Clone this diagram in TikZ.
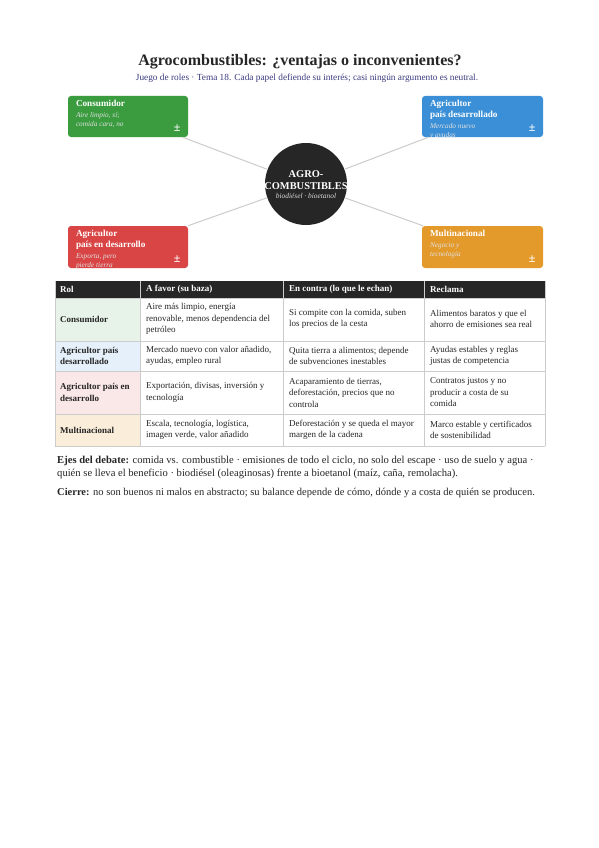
\documentclass[tikz,border=0pt]{standalone}
\usepackage{fontspec}
\setmainfont{Liberation Serif}
\usepackage{tikz}
\usetikzlibrary{positioning}
\definecolor{ink}{HTML}{262626}
\definecolor{navy}{HTML}{3A3A7E}
\definecolor{consgreen}{HTML}{3A9C3F}
\definecolor{richblue}{HTML}{3A8FD6}
\definecolor{poorred}{HTML}{D94545}
\definecolor{multiorange}{HTML}{E39A2B}
\definecolor{gridgray}{HTML}{CCCCCC}
\tikzset{
    rolebox/.style={rectangle, rounded corners=3pt, minimum width=120pt, minimum height=41pt, inner sep=0pt},
    roletitle/.style={anchor=north west, inner sep=0pt, align=left, text=white, font=\bfseries\fontsize{9.2}{10.5}\selectfont},
    rolenote/.style={anchor=north west, inner sep=0pt, align=left, text=white!88!black, font=\itshape\fontsize{7.3}{9}\selectfont},
    pm/.style={text=white, inner sep=0pt, font=\bfseries\fontsize{12}{12}\selectfont},
    spoke/.style={draw=gridgray, line width=1pt},
    hub/.style={circle, fill=ink, minimum size=82pt, inner sep=0pt},
    tabhead/.style={anchor=west, inner sep=0pt, text=white, font=\bfseries\fontsize{9}{10}\selectfont},
    rolcell/.style={anchor=west, inner sep=0pt, align=left, text=ink, font=\bfseries\fontsize{9}{11.5}\selectfont},
    cell/.style={anchor=west, inner sep=0pt, align=left, text=ink, font=\fontsize{9}{11.5}\selectfont},
}
\begin{document}
\begin{tikzpicture}[x=1pt, y=-1pt]
\useasboundingbox[fill=white] (0,0) rectangle (599,848);

% title
\node[font=\bfseries\fontsize{16}{18}\selectfont, text=ink] (title) at (300,61.5) {Agrocombustibles: ¿ventajas o inconvenientes?};
\node[font=\fontsize{9.3}{11}\selectfont, text=navy] (subtitle) at (307,78) {Juego de roles · Tema 18. Cada papel defiende su interés; casi ningún argumento es neutral.};

% hub and role boxes
\node[hub] (hub) at (306,184) {};
\node[text=white, align=center, inner sep=0pt, font=\bfseries\fontsize{10.4}{12}\selectfont] (hubname) at (306,180.5) {AGRO-\\COMBUSTIBLES};
\node[text=white!85!black, inner sep=0pt, font=\itshape\fontsize{7.4}{8}\selectfont, below=3pt of hubname] (hubsub) {biodiésel · bioetanol};

\node[rolebox, fill=consgreen] (cons) at (128,116.5) {};
\node[rolebox, fill=richblue, minimum width=121pt] (rich) at (482.5,116.5) {};
\node[rolebox, fill=poorred, minimum height=42pt] (poor) at (128,247) {};
\node[rolebox, fill=multiorange, minimum width=121pt, minimum height=42pt] (multi) at (482.5,247) {};

\draw[spoke] (hub) -- (cons);
\draw[spoke] (hub) -- (rich);
\draw[spoke] (hub) -- (poor);
\draw[spoke] (hub) -- (multi);

\begin{scope}
\clip[rounded corners=3pt] (cons.south west) rectangle (cons.north east);
\node[roletitle] (t1) at ([xshift=8pt,yshift=-4.5pt]cons.north west) {Consumidor};
\node[rolenote, below=5pt of t1.south west, anchor=north west] {Aire limpio, sí;\\comida cara, no};
\end{scope}
\begin{scope}
\clip[rounded corners=3pt] (rich.south west) rectangle (rich.north east);
\node[roletitle] (t2) at ([xshift=8pt,yshift=-4.5pt]rich.north west) {Agricultor\\país desarrollado};
\node[rolenote, below=3.5pt of t2.south west, anchor=north west] {Mercado nuevo\\y ayudas};
\end{scope}
\begin{scope}
\clip[rounded corners=3pt] (poor.south west) rectangle (poor.north east);
\node[roletitle] (t3) at ([xshift=8pt,yshift=-4.5pt]poor.north west) {Agricultor\\país en desarrollo};
\node[rolenote, below=4pt of t3.south west, anchor=north west] {Exporta, pero\\pierde tierra};
\end{scope}
\begin{scope}
\clip[rounded corners=3pt] (multi.south west) rectangle (multi.north east);
\node[roletitle] (t4) at ([xshift=8pt,yshift=-4.5pt]multi.north west) {Multinacional};
\node[rolenote, below=5.5pt of t4.south west, anchor=north west] {Negocio y\\tecnología};
\end{scope}

\foreach \b in {cons,rich,poor,multi}
    \node[pm] at ([xshift=-11pt,yshift=9.5pt]\b.south east) {±};

% table
\fill[ink] (55,281) rectangle (545,298);
\fill[consgreen!12] (55,298) rectangle (140,341);
\fill[richblue!13] (55,341) rectangle (140,371);
\fill[poorred!13] (55,371) rectangle (140,414);
\fill[multiorange!17] (55,414) rectangle (140,446);
\foreach \y in {298,341,371,414,446}
    \draw[gridgray, line width=0.6pt] (55,\y) -- (545,\y);
\foreach \x in {55,140,283,424,545}
    \draw[gridgray, line width=0.6pt] (\x,281) -- (\x,446);

\node[tabhead] (h1) at (60,289.5) {Rol};
\node[tabhead] (h2) at (146,289.5) {A favor (su baza)};
\node[tabhead] (h3) at (289,289.5) {En contra (lo que le echan)};
\node[tabhead] (h4) at (430,289.5) {Reclama};

\node[rolcell] at (60,319.5) {Consumidor};
\node[cell] at (146,319) {Aire más limpio, energía\\renovable, menos dependencia del\\petróleo};
\node[cell] at (289,319) {Si compite con la comida, suben\\los precios de la cesta};
\node[cell] at (430,319) {Alimentos baratos y que el\\ahorro de emisiones sea real};

\node[rolcell] at (60,356) {Agricultor país\\desarrollado};
\node[cell] at (146,356) {Mercado nuevo con valor añadido,\\ayudas, empleo rural};
\node[cell] at (289,356) {Quita tierra a alimentos; depende\\de subvenciones inestables};
\node[cell] at (430,356) {Ayudas estables y reglas\\justas de competencia};

\node[rolcell] at (60,392.5) {Agricultor país en\\desarrollo};
\node[cell] at (146,392.5) {Exportación, divisas, inversión y\\tecnología};
\node[cell] at (289,392.5) {Acaparamiento de tierras,\\deforestación, precios que no\\controla};
\node[cell] at (430,392.5) {Contratos justos y no\\producir a costa de su\\comida};

\node[rolcell] at (60,430) {Multinacional};
\node[cell] at (146,430) {Escala, tecnología, logística,\\imagen verde, valor añadido};
\node[cell] at (289,430) {Deforestación y se queda el mayor\\margen de la cadena};
\node[cell] at (430,430) {Marco estable y certificados\\de sostenibilidad};

% notes
\node[anchor=north west, inner sep=0pt, align=left, text=ink, font=\fontsize{10.6}{13}\selectfont] (axes) at (57,456) {\textbf{Ejes del debate:} comida vs. combustible · emisiones de todo el ciclo, no solo del escape · uso de suelo y agua ·\\quién se lleva el beneficio · biodiésel (oleaginosas) frente a bioetanol (maíz, caña, remolacha).};
\node[below=9pt of axes.south west, anchor=north west, inner sep=0pt, align=left, text=ink, font=\fontsize{10.5}{13}\selectfont] (close) {\textbf{Cierre:} no son buenos ni malos en abstracto; su balance depende de cómo, dónde y a costa de quién se producen.};

\end{tikzpicture}
\end{document}
